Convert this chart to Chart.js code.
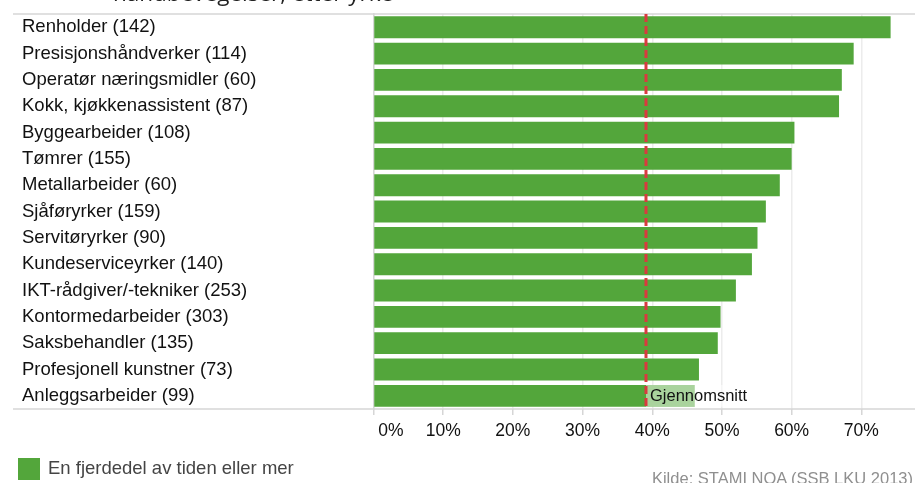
<!DOCTYPE html>
<html>
<head>
<meta charset="utf-8">
<script src="https://cdn.jsdelivr.net/npm/chart.js@4"></script>
<style>
  html, body { margin: 0; padding: 0; background: #fff; }
  #wrap { position: relative; width: 915px; height: 483px; overflow: hidden; }
  #myChart { position: absolute; left: 0; top: 0; }
  .title {
    position: absolute; left: 113px; top: -22px; white-space: nowrap;
    font: 22.5px/30px "Open Sans", sans-serif; color: #222;
  }
  .legend {
    position: absolute; left: 18px; top: 457px; white-space: nowrap;
    font: 18.5px "Liberation Sans", Arial, sans-serif; color: #444;
  }
  .legend span.box {
    display: inline-block; width: 22px; height: 22px; background: #53a63b;
    vertical-align: middle; margin-right: 8px;
  }
  .source {
    position: absolute; right: 2px; top: 469px; white-space: nowrap;
    font: 16.5px "Liberation Sans", Arial, sans-serif; color: #8f8f8f;
  }
</style>
</head>
<body>
<div id="wrap">
  <canvas id="myChart" width="915" height="483"></canvas>
  <div class="title">håndbevegelser, etter yrke</div>
  <div class="legend"><span class="box"></span><span class="legendText">En fjerdedel av tiden eller mer</span></div>
  <div class="source">Kilde: STAMI NOA (SSB LKU 2013)</div>
</div>
<script>
const occupations = [
  "Renholder (142)",
  "Presisjonshåndverker (114)",
  "Operatør næringsmidler (60)",
  "Kokk, kjøkkenassistent (87)",
  "Byggearbeider (108)",
  "Tømrer (155)",
  "Metallarbeider (60)",
  "Sjåføryrker (159)",
  "Servitøryrker (90)",
  "Kundeserviceyrker (140)",
  "IKT-rådgiver/-tekniker (253)",
  "Kontormedarbeider (303)",
  "Saksbehandler (135)",
  "Profesjonell kunstner (73)",
  "Anleggsarbeider (99)",
];
const quarterOrMore = [74.2, 68.9, 67.2, 66.8, 60.4, 60.0, 58.3, 56.3, 55.1, 54.3, 52.0, 49.8, 49.4, 46.7, 46.1];
const average = 39.1;
const averageLabel = "Gjennomsnitt";
const seriesLabel = "En fjerdedel av tiden eller mer";
const xTicks = [0, 10, 20, 30, 40, 50, 60, 70];

const green = "#53a63b";
const labelFont = '"Liberation Sans", Arial, sans-serif';

// frame lines, average line and its label
const averagePlugin = {
  id: "averageLine",
  beforeDatasetsDraw(chart) {
    const { ctx, chartArea } = chart;
    ctx.save();
    ctx.strokeStyle = "#d6d6d6";
    ctx.lineWidth = 1.5;
    ctx.beginPath();
    ctx.moveTo(13, chartArea.top);
    ctx.lineTo(chartArea.right, chartArea.top);
    ctx.moveTo(13, chartArea.bottom);
    ctx.lineTo(chartArea.right, chartArea.bottom);
    ctx.stroke();
    ctx.restore();
  },
  afterDatasetsDraw(chart) {
    const { ctx, chartArea, scales } = chart;
    const x = scales.x.getPixelForValue(average);
    const last = chart.getDatasetMeta(0).data[occupations.length - 1];
    const top = last.y - last.height / 2;
    ctx.save();
    ctx.font = "16.5px " + labelFont;
    const w = ctx.measureText(averageLabel).width;
    ctx.fillStyle = "rgba(255,255,255,0.5)";
    ctx.fillRect(x, top, w + 8, last.height);
    ctx.fillStyle = "#111";
    ctx.textBaseline = "middle";
    ctx.fillText(averageLabel, x + 4, last.y + 1);

    ctx.strokeStyle = "#d93a3f";
    ctx.lineWidth = 3;
    ctx.setLineDash([8, 4]);
    ctx.beginPath();
    ctx.moveTo(x, chartArea.top);
    ctx.lineTo(x, chartArea.bottom);
    ctx.stroke();
    ctx.restore();
  },
};

new Chart(document.getElementById("myChart"), {
  type: "bar",
  data: {
    labels: occupations,
    datasets: [
      {
        label: seriesLabel,
        data: quarterOrMore,
        backgroundColor: green,
        borderWidth: 0,
        barPercentage: 0.83,
        categoryPercentage: 1,
      },
    ],
  },
  options: {
    indexAxis: "y",
    responsive: false,
    animation: false,
    layout: { padding: { top: 12, left: 22, right: 0, bottom: 0 } },
    plugins: {
      legend: { display: false },
      tooltip: { enabled: false },
    },
    scales: {
      x: {
        min: 0,
        max: 77.7,
        afterBuildTicks(scale) {
          scale.ticks = xTicks.map((v) => ({ value: v }));
        },
        afterFit(scale) {
          scale.height = 74;
        },
        ticks: {
          color: "#111",
          font: { family: labelFont, size: 17.5 },
          padding: 6,
          maxRotation: 0,
          callback: (v) => (v === 0 ? "\u2003\u2003" + v + "%" : v + "%"),
        },
        grid: {
          color: "#ececec",
          lineWidth: 1.5,
          tickColor: "#d6d6d6",
          tickLength: 6,
        },
        border: { display: false },
      },
      y: {
        afterFit(scale) {
          scale.width = 351.5;
        },
        ticks: {
          color: "#111",
          crossAlign: "far",
          font: { family: labelFont, size: 18.5 },
          autoSkip: false,
        },
        grid: { display: false },
        border: { display: true, color: "#d6d6d6", width: 1.5 },
      },
    },
  },
  plugins: [averagePlugin],
});
</script>
</body>
</html>
